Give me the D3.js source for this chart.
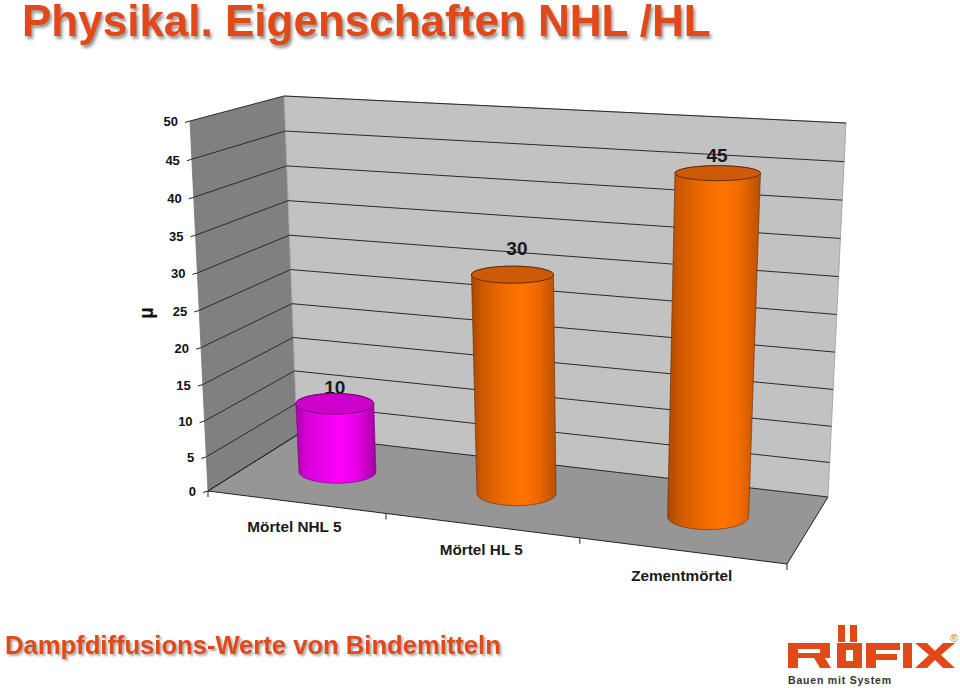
<!DOCTYPE html>
<html><head><meta charset="utf-8">
<script src="https://cdn.jsdelivr.net/npm/d3@7"></script>
<style>html,body{margin:0;background:#fff}svg{display:block}text{font-family:"Liberation Sans",Arial,sans-serif}</style>
</head><body><div id="c"></div>
<script>
const categories=["Mörtel NHL 5","Mörtel HL 5","Zementmörtel"];
const values=[10,30,45];
const yTicks=[0,5,10,15,20,25,30,35,40,45,50];
const title="Physikal. Eigenschaften NHL /HL";
const subtitle="Dampfdiffusions-Werte von Bindemitteln";
const barFill=["pink","orange","orange"];

const W=960,H=688;
const svg=d3.select("#c").append("svg").attr("width",W).attr("height",H);
const defs=svg.append("defs");
function grad(id,stops){const g=defs.append("linearGradient").attr("id",id).attr("x1",0).attr("x2",1).attr("y1",0).attr("y2",0);
 stops.forEach(s=>g.append("stop").attr("offset",s[0]).attr("stop-color",s[1]));}
grad("orange",[[0,"#a84800"],[.12,"#cc5800"],[.35,"#ec6800"],[.6,"#ff7400"],[.8,"#ec6800"],[1,"#b85000"]]);
grad("pink",[[0,"#a800a8"],[.15,"#d800d8"],[.55,"#ff00ff"],[.8,"#e000e0"],[1,"#a000a0"]]);
const capFill={orange:"#cc5a08",pink:"#cc00cc"};

// homography from unit square to quad p0(0,0) p1(1,0) p2(1,1) p3(0,1)
function homog(p0,p1,p2,p3){
 const dx1=p1[0]-p2[0],dx2=p3[0]-p2[0],sx=p0[0]-p1[0]+p2[0]-p3[0];
 const dy1=p1[1]-p2[1],dy2=p3[1]-p2[1],sy=p0[1]-p1[1]+p2[1]-p3[1];
 const den=dx1*dy2-dx2*dy1,g=(sx*dy2-dx2*sy)/den,h=(dx1*sy-sx*dy1)/den;
 const a=p1[0]-p0[0]+g*p1[0],b=p3[0]-p0[0]+h*p3[0],c=p0[0];
 const d=p1[1]-p0[1]+g*p1[1],e=p3[1]-p0[1]+h*p3[1],f=p0[1];
 return (u,w)=>{const q=g*u+h*w+1;return [(a*u+b*w+c)/q,(d*u+e*w+f)/q];};
}
const floorH=homog([208,491],[787,564],[828,497],[297,435]);
const topH=homog([190,121],[826,160],[846,123],[284,96]);
const vScale=d3.scalePow().exponent(1.035).domain([0,50]).range([0,1]);
const uScale=d3.scaleBand().domain(categories).range([0,1]);
const floorWarp=d3.scalePow().exponent(1.025).domain([0,1]).range([0,1]);
const topWarp=d3.scaleLinear().domain([0,.5,1]).range([0,.51,1]);
function P(u,w,val){const f=floorH(floorWarp(u),w),t=topH(topWarp(u),w),k=vScale(val);return [f[0]+(t[0]-f[0])*k,f[1]+(t[1]-f[1])*k];}
const line=d3.line();

// walls
svg.append("path").attr("d",line([P(0,0,0),P(0,1,0),P(0,1,50),P(0,0,50)])+"Z").attr("fill","#808080");
svg.append("path").attr("d",line([P(0,1,0),P(1,1,0),P(1,1,50),P(0,1,50)])+"Z").attr("fill","#c2c2c2").attr("stroke","#9a9a9a").attr("stroke-width",.8);
svg.append("path").attr("d",line([P(0,0,0),P(1,0,0),P(1,1,0),P(0,1,0)])+"Z").attr("fill","#969696");

// gridlines
const grid=svg.append("g").attr("fill","none").attr("stroke","#2a2a2a").attr("stroke-width",1);
yTicks.forEach(v=>{grid.append("path").attr("d",line([P(0,0,v),P(0,1,v),P(1,1,v)]));});
svg.append("path").attr("d",line([P(0,0,0),P(0,0,50)])).attr("stroke","#777").attr("fill","none").attr("stroke-width",.8);
// floor edges and ticks
const ax=svg.append("g").attr("fill","none").attr("stroke","#222").attr("stroke-width",1);
ax.append("path").attr("d",line([P(0,1,0),P(0,0,0),P(1,0,0),P(1,1,0)]));
[0,1/3,2/3,1].forEach(u=>{const p=P(u,0,0);ax.append("path").attr("d",line([p,[p[0],p[1]+6]]));});
yTicks.forEach(v=>{const p=P(0,0,v);ax.append("path").attr("d",line([p,[p[0]-5,p[1]+1.5]]));});

// y tick labels
svg.append("g").selectAll("text").data(yTicks).join("text")
 .attr("x",v=>P(0,0,v)[0]-12).attr("y",v=>P(0,0,v)[1]+2)
 .attr("text-anchor","end").attr("dominant-baseline","middle")
 .attr("font-size",13).attr("font-weight","bold").attr("fill","#111").text(v=>v);
svg.append("text").attr("transform","translate(153,313) rotate(-90)").attr("text-anchor","middle")
 .attr("font-size",20).attr("font-weight","bold").attr("fill","#111").text("µ");

// data labels (sit behind the cylinder caps)
const labelLift=[15,25,16],labelNudge=[0,4.4,-.7];
svg.append("g").selectAll("text").data(values).join("text")
 .attr("x",(d,i)=>P(uScale(categories[i])+uScale.bandwidth()/2,.5,d)[0]+labelNudge[i])
 .attr("y",(d,i)=>P(uScale(categories[i])+uScale.bandwidth()/2,.5,d)[1]-labelLift[i])
 .attr("text-anchor","middle").attr("dominant-baseline","middle")
 .attr("font-size",19).attr("font-weight","bold").attr("fill","#1a1a1a").text(d=>d);

// cylinders
const radW=0.2;
const rxScale=(u,val)=>38+3*u+0.05*val;
function ring(c,val){
 const o=P(c,.5,val),rx=rxScale(c,val),ry=Math.abs(P(c,.5-radW,val)[1]-P(c,.5+radW,val)[1])/2;
 return d3.range(0,361,6).map(a=>{const r=a*Math.PI/180;return [o[0]+rx*Math.cos(r),o[1]+ry*Math.sin(r)];});
}
categories.forEach((cat,i)=>{
 const c=uScale(cat)+uScale.bandwidth()/2,v=values[i],kind=barFill[i];
 const bot=ring(c,0),top=ring(c,v);
 svg.append("path").attr("d",line(bot.slice(0,31))+"L"+line(top.slice(30)).slice(1)+"Z")
  .attr("fill",`url(#${kind})`).attr("stroke",kind=="pink"?"#7a007a":"#6a2a00").attr("stroke-opacity",.75).attr("stroke-width",.8);
 svg.append("path").attr("d",line(top)+"Z").attr("fill",capFill[kind]).attr("stroke",kind=="pink"?"#660066":"#5a2400").attr("stroke-width",.9);
});

// category labels
svg.append("g").selectAll("text").data(categories).join("text")
 .attr("x",d=>P(uScale(d)+uScale.bandwidth()/2,0,0)[0])
 .attr("y",d=>P(uScale(d)+uScale.bandwidth()/2,0,0)[1]+30)
 .attr("text-anchor","middle")
 .attr("font-size",15.3).attr("font-weight","bold").attr("fill","#1a1a1a").text(d=>d);

// titles
svg.append("text").attr("x",22).attr("y",36).attr("font-size",44).attr("font-weight","bold").attr("fill","#e2491a")
 .style("filter","drop-shadow(2px 3px 1.5px #9a9a9a)").text(title);
svg.append("text").attr("x",5).attr("y",654).attr("font-size",25.6).attr("font-weight","bold").attr("fill","#e2491a")
 .style("filter","drop-shadow(2px 2px 1px #aaa)").text(subtitle);

// logo
const logo=svg.append("g").attr("fill","#e2491a");
const L=(s)=>logo.append("path").attr("fill-rule","evenodd").attr("d",s);
L("M788 643h42v15h-5l6 10h-11l-6-10h-16v10h-10zM798 649v4h22v-4z"); // R
L("M838 625h7v17h-7zM850 625h7v17h-7z"); // dots
L("M837 643h25v25h-25zM846 650v11h7v-11z"); // O
L("M866 643h34v7h-24v4h21v6h-21v8h-10z"); // F
L("M903 643h9v25h-9z"); // I
L("M915 643h12l8 8 8-8h12l-14 12 14 13h-12l-8-8-8 8h-12l14-13z"); // X
svg.append("text").attr("x",788).attr("y",684).attr("font-size",10.5).attr("font-weight","bold").attr("letter-spacing",".8").attr("fill","#333").text("Bauen mit System");
svg.append("text").attr("x",950).attr("y",642).attr("font-size",11).attr("fill","#d8704a").text("®");
</script></body></html>
